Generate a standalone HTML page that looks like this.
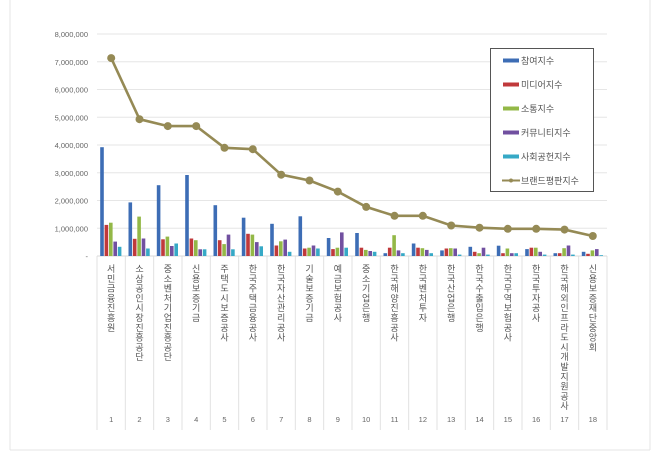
<!DOCTYPE html>
<html><head><meta charset="utf-8"><style>
html,body{margin:0;padding:0;background:#fff;}
svg{display:block;font-family:"Liberation Sans","Noto Sans CJK KR",sans-serif;}
</style></head><body>
<svg id="c" width="660" height="459" viewBox="0 0 660 459" xmlns="http://www.w3.org/2000/svg"></svg>
<script>
var s=document.getElementById('c'),h='';
h+='<rect x="0" y="0" width="660" height="459" fill="#fff"/>';
h+='<line x1="10" y1="0" x2="10" y2="450" stroke="#e4e4e4"/><line x1="650" y1="0" x2="650" y2="450" stroke="#e4e4e4"/><line x1="10" y1="450" x2="650" y2="450" stroke="#e4e4e4"/>';
var L=97,R=607,Y0=256,U=27.75;
for(var i=1;i<=8;i++){var y=Y0-i*U;h+='<line x1="'+L+'" y1="'+y+'" x2="'+R+'" y2="'+y+'" stroke="#e6e6e6"/>';
h+='<text x="88" y="'+(y+3)+'" font-size="7.5" fill="#666" text-anchor="end">'+(i+',000,000')+'</text>';}
h+='<text x="88" y="'+(Y0+3)+'" font-size="7.5" fill="#666" text-anchor="end">-</text>';
var cw=(R-L)/18;
for(var i=0;i<=18;i++){var x=L+i*cw;h+='<line x1="'+x+'" y1="'+Y0+'" x2="'+x+'" y2="430" stroke="#e2e2e2"/>';}
h+='<line x1="'+L+'" y1="'+Y0+'" x2="'+R+'" y2="'+Y0+'" stroke="#d9d9d9"/>';
var names=["서민금융진흥원","소상공인시장진흥공단","중소벤처기업진흥공단","신용보증기금","주택도시보증공사","한국주택금융공사","한국자산관리공사","기술보증기금","예금보험공사","중소기업은행","한국해양진흥공사","한국벤처투자","한국산업은행","한국수출입은행","한국무역보험공사","한국투자공사","한국해외인프라도시개발지원공사","신용보증재단중앙회"];
var d=[[3.92,1.12,1.2,0.52,0.33],[1.93,0.62,1.42,0.63,0.27],[2.55,0.6,0.7,0.36,0.45],[2.92,0.63,0.57,0.24,0.24],[1.83,0.57,0.43,0.77,0.24],[1.38,0.8,0.77,0.5,0.35],[1.16,0.38,0.53,0.59,0.15],[1.43,0.27,0.3,0.38,0.27],[0.65,0.25,0.3,0.85,0.3],[0.83,0.3,0.22,0.18,0.15],[0.1,0.3,0.75,0.2,0.1],[0.45,0.3,0.28,0.22,0.1],[0.2,0.27,0.28,0.27,0.05],[0.33,0.15,0.1,0.3,0.05],[0.37,0.1,0.27,0.1,0.1],[0.25,0.3,0.3,0.15,0.05],[0.1,0.1,0.28,0.38,0.05],[0.15,0.08,0.2,0.25,0.03]];
var ln=[7.13,4.93,4.68,4.68,3.9,3.85,2.93,2.72,2.32,1.77,1.45,1.45,1.1,1.02,0.98,0.98,0.95,0.72];
var col=["#3d6db5","#c0393b","#93b847","#7150a0","#36a9c6"];
var pts=[];
for(var i=0;i<18;i++){var cx=L+cw*(i+0.5);
for(var j=0;j<5;j++){var v=d[i][j]*U;var bx=cx-11+j*4.4;h+='<rect x="'+bx.toFixed(1)+'" y="'+(Y0-v).toFixed(1)+'" width="3.6" height="'+v.toFixed(1)+'" fill="'+col[j]+'"/>';}
pts.push(cx.toFixed(1)+','+(Y0-ln[i]*U).toFixed(1));
var t='';for(var k=0;k<names[i].length;k++)t+='<tspan x="'+cx+'" dy="'+(k?9.8:0)+'">'+names[i][k]+'</tspan>';
h+='<text x="'+cx+'" y="272" font-size="9" fill="#555" text-anchor="middle">'+t+'</text>';
h+='<text x="'+cx+'" y="422" font-size="7.5" fill="#666" text-anchor="middle">'+(i+1)+'</text>';}
h+='<polyline points="'+pts.join(' ')+'" fill="none" stroke="#958a55" stroke-width="2.6"/>';
pts.forEach(function(p){var a=p.split(',');h+='<circle cx="'+a[0]+'" cy="'+a[1]+'" r="4" fill="#958a55"/>';});
h+='<rect x="490.5" y="48.5" width="103" height="143" fill="#fff" stroke="#555"/>';
var lg=["참여지수","미디어지수","소통지수","커뮤니티지수","사회공헌지수","브랜드평판지수"];
for(var j=0;j<6;j++){var y=60+j*24;
if(j<5)h+='<rect x="503" y="'+(y-1.5)+'" width="16" height="4" fill="'+col[j]+'"/>';
else h+='<line x1="502" y1="'+(y+0.5)+'" x2="520" y2="'+(y+0.5)+'" stroke="#958a55" stroke-width="2"/><circle cx="511" cy="'+(y+0.5)+'" r="2" fill="#958a55"/>';
h+='<text x="521" y="'+(y+4)+'" font-size="9" fill="#555">'+lg[j]+'</text>';}
s.innerHTML=h;
</script>
</body></html>
